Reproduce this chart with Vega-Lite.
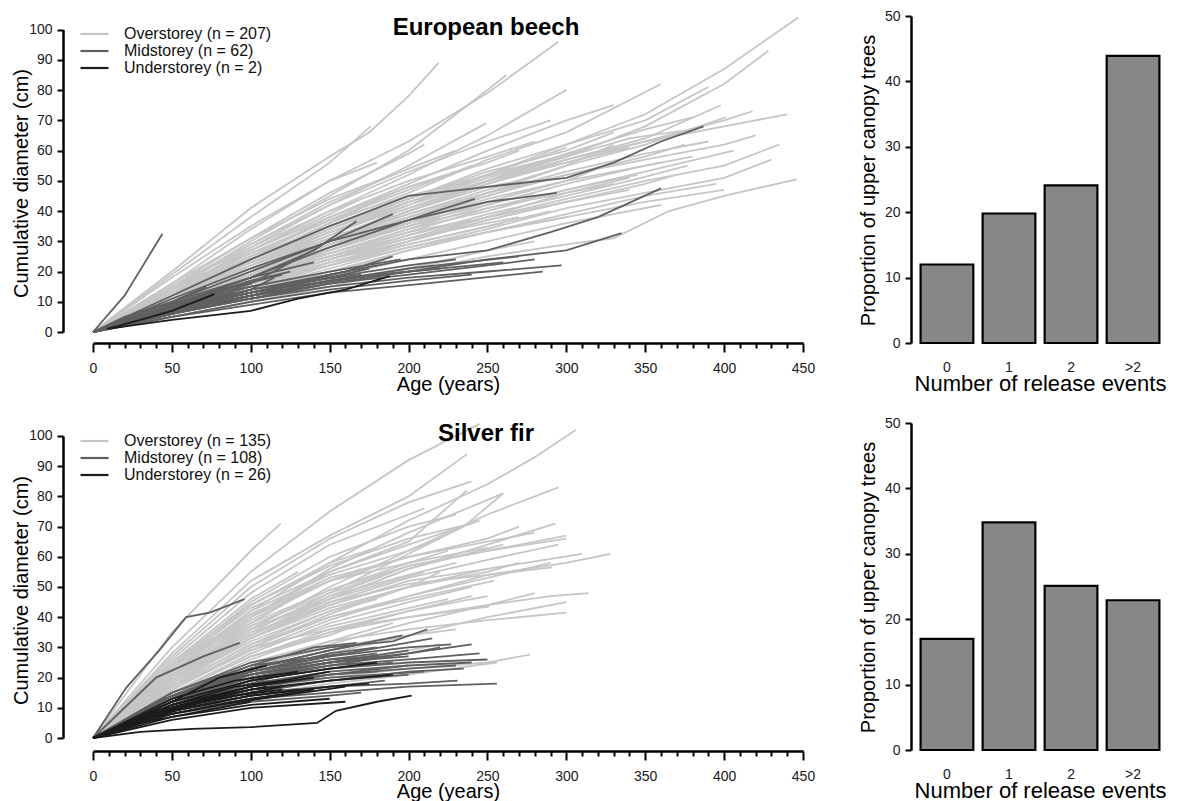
{
"$schema": "https://vega.github.io/schema/vega-lite/v6.json",
"background": "white",
"padding": {"left": 11, "top": 9, "right": 5, "bottom": 2},
"config": {
  "font": "Liberation Sans",
  "view": {"stroke": null},
  "axis": {"grid": false, "domainColor": "#000", "domainWidth": 2.5, "domainCap": "butt", "tickColor": "#000", "tickWidth": 2, "labelColor": "#1a1a1a", "labelFontSize": 14, "labelFont": "Liberation Sans", "titleFont": "Liberation Sans", "titleColor": "#000", "titleFontWeight": "normal", "titleFontSize": 20},
  "legend": {"labelFont": "Liberation Sans", "labelColor": "#111"}
},
"datasets": {
"beech": [
{"t":1,"c":"O","a":0,"d":0},{"t":1,"c":"O","a":50,"d":10},{"t":1,"c":"O","a":100,"d":22},{"t":1,"c":"O","a":150,"d":32},{"t":1,"c":"O","a":200,"d":43},{"t":1,"c":"O","a":250,"d":52},{"t":1,"c":"O","a":300,"d":62},{"t":1,"c":"O","a":350,"d":72},{"t":1,"c":"O","a":400,"d":87},{"t":1,"c":"O","a":447,"d":104},
{"t":2,"c":"O","a":0,"d":0},{"t":2,"c":"O","a":50,"d":9},{"t":2,"c":"O","a":100,"d":19},{"t":2,"c":"O","a":150,"d":30},{"t":2,"c":"O","a":200,"d":40},{"t":2,"c":"O","a":250,"d":50},{"t":2,"c":"O","a":300,"d":58},{"t":2,"c":"O","a":350,"d":68},{"t":2,"c":"O","a":400,"d":82},{"t":2,"c":"O","a":428,"d":93},
{"t":3,"c":"O","a":0,"d":0},{"t":3,"c":"O","a":50,"d":16},{"t":3,"c":"O","a":100,"d":34},{"t":3,"c":"O","a":150,"d":50},{"t":3,"c":"O","a":200,"d":63},{"t":3,"c":"O","a":250,"d":79},{"t":3,"c":"O","a":295,"d":96},
{"t":4,"c":"O","a":0,"d":0},{"t":4,"c":"O","a":50,"d":20},{"t":4,"c":"O","a":100,"d":41},{"t":4,"c":"O","a":150,"d":58},{"t":4,"c":"O","a":175,"d":66},{"t":4,"c":"O","a":200,"d":78},{"t":4,"c":"O","a":219,"d":89},
{"t":5,"c":"O","a":0,"d":0},{"t":5,"c":"O","a":50,"d":19},{"t":5,"c":"O","a":100,"d":38},{"t":5,"c":"O","a":150,"d":56},{"t":5,"c":"O","a":176,"d":68},
{"t":6,"c":"O","a":0,"d":0},{"t":6,"c":"O","a":50,"d":14},{"t":6,"c":"O","a":100,"d":30},{"t":6,"c":"O","a":150,"d":45},{"t":6,"c":"O","a":200,"d":60},{"t":6,"c":"O","a":250,"d":80},{"t":6,"c":"O","a":262,"d":85},
{"t":7,"c":"O","a":0,"d":0},{"t":7,"c":"O","a":50,"d":12},{"t":7,"c":"O","a":100,"d":27},{"t":7,"c":"O","a":150,"d":40},{"t":7,"c":"O","a":200,"d":52},{"t":7,"c":"O","a":250,"d":65},{"t":7,"c":"O","a":300,"d":80},
{"t":8,"c":"O","a":0,"d":0},{"t":8,"c":"O","a":50,"d":13},{"t":8,"c":"O","a":100,"d":28},{"t":8,"c":"O","a":150,"d":42},{"t":8,"c":"O","a":200,"d":55},{"t":8,"c":"O","a":249,"d":69},
{"t":9,"c":"O","a":0,"d":0},{"t":9,"c":"O","a":50,"d":11},{"t":9,"c":"O","a":100,"d":24},{"t":9,"c":"O","a":150,"d":36},{"t":9,"c":"O","a":200,"d":46},{"t":9,"c":"O","a":250,"d":57},{"t":9,"c":"O","a":300,"d":66},{"t":9,"c":"O","a":360,"d":82},
{"t":10,"c":"O","a":0,"d":0},{"t":10,"c":"O","a":50,"d":9},{"t":10,"c":"O","a":100,"d":20},{"t":10,"c":"O","a":150,"d":30},{"t":10,"c":"O","a":200,"d":40},{"t":10,"c":"O","a":250,"d":49},{"t":10,"c":"O","a":300,"d":57},{"t":10,"c":"O","a":350,"d":64},{"t":10,"c":"O","a":398,"d":75},
{"t":11,"c":"O","a":0,"d":0},{"t":11,"c":"O","a":50,"d":10},{"t":11,"c":"O","a":100,"d":19},{"t":11,"c":"O","a":150,"d":28},{"t":11,"c":"O","a":200,"d":37},{"t":11,"c":"O","a":250,"d":46},{"t":11,"c":"O","a":300,"d":55},{"t":11,"c":"O","a":350,"d":62},{"t":11,"c":"O","a":401,"d":71},
{"t":12,"c":"O","a":0,"d":0},{"t":12,"c":"O","a":50,"d":11},{"t":12,"c":"O","a":100,"d":23},{"t":12,"c":"O","a":150,"d":34},{"t":12,"c":"O","a":200,"d":44},{"t":12,"c":"O","a":250,"d":54},{"t":12,"c":"O","a":300,"d":62},{"t":12,"c":"O","a":350,"d":70},{"t":12,"c":"O","a":390,"d":81},
{"t":13,"c":"O","a":0,"d":0},{"t":13,"c":"O","a":50,"d":8},{"t":13,"c":"O","a":100,"d":16},{"t":13,"c":"O","a":150,"d":24},{"t":13,"c":"O","a":200,"d":31},{"t":13,"c":"O","a":250,"d":38},{"t":13,"c":"O","a":300,"d":44},{"t":13,"c":"O","a":350,"d":50},{"t":13,"c":"O","a":400,"d":55},{"t":13,"c":"O","a":435,"d":62},
{"t":14,"c":"O","a":0,"d":0},{"t":14,"c":"O","a":50,"d":7},{"t":14,"c":"O","a":100,"d":14},{"t":14,"c":"O","a":150,"d":21},{"t":14,"c":"O","a":200,"d":28},{"t":14,"c":"O","a":250,"d":34},{"t":14,"c":"O","a":300,"d":41},{"t":14,"c":"O","a":350,"d":46},{"t":14,"c":"O","a":400,"d":51},{"t":14,"c":"O","a":430,"d":57},
{"t":15,"c":"O","a":0,"d":0},{"t":15,"c":"O","a":50,"d":6},{"t":15,"c":"O","a":100,"d":11},{"t":15,"c":"O","a":150,"d":16},{"t":15,"c":"O","a":200,"d":20},{"t":15,"c":"O","a":250,"d":25},{"t":15,"c":"O","a":300,"d":29},{"t":15,"c":"O","a":330,"d":31},{"t":15,"c":"O","a":365,"d":40},{"t":15,"c":"O","a":400,"d":45},{"t":15,"c":"O","a":446,"d":50.5},
{"t":16,"c":"O","a":0,"d":0},{"t":16,"c":"O","a":50,"d":9},{"t":16,"c":"O","a":100,"d":17},{"t":16,"c":"O","a":150,"d":25},{"t":16,"c":"O","a":200,"d":33},{"t":16,"c":"O","a":250,"d":41},{"t":16,"c":"O","a":300,"d":47},{"t":16,"c":"O","a":350,"d":53},{"t":16,"c":"O","a":406,"d":60},
{"t":17,"c":"O","a":0,"d":0},{"t":17,"c":"O","a":50,"d":8},{"t":17,"c":"O","a":100,"d":16},{"t":17,"c":"O","a":150,"d":24},{"t":17,"c":"O","a":200,"d":32},{"t":17,"c":"O","a":250,"d":39},{"t":17,"c":"O","a":300,"d":45},{"t":17,"c":"O","a":340,"d":50},{"t":17,"c":"O","a":377,"d":55},
{"t":18,"c":"O","a":0,"d":0},{"t":18,"c":"O","a":50,"d":10},{"t":18,"c":"O","a":100,"d":20},{"t":18,"c":"O","a":150,"d":30},{"t":18,"c":"O","a":200,"d":39},{"t":18,"c":"O","a":250,"d":47},{"t":18,"c":"O","a":300,"d":55},{"t":18,"c":"O","a":330,"d":62},
{"t":19,"c":"O","a":0,"d":0},{"t":19,"c":"O","a":50,"d":12},{"t":19,"c":"O","a":100,"d":24},{"t":19,"c":"O","a":150,"d":34},{"t":19,"c":"O","a":200,"d":44},{"t":19,"c":"O","a":250,"d":52},{"t":19,"c":"O","a":310,"d":60},
{"t":20,"c":"O","a":0,"d":0},{"t":20,"c":"O","a":50,"d":11},{"t":20,"c":"O","a":100,"d":21},{"t":20,"c":"O","a":150,"d":30},{"t":20,"c":"O","a":200,"d":38},{"t":20,"c":"O","a":250,"d":45},{"t":20,"c":"O","a":290,"d":51},
{"t":21,"c":"O","a":0,"d":0},{"t":21,"c":"O","a":50,"d":13},{"t":21,"c":"O","a":100,"d":26},{"t":21,"c":"O","a":150,"d":37},{"t":21,"c":"O","a":200,"d":47},{"t":21,"c":"O","a":240,"d":55},
{"t":22,"c":"O","a":0,"d":0},{"t":22,"c":"O","a":50,"d":9},{"t":22,"c":"O","a":100,"d":18},{"t":22,"c":"O","a":150,"d":26},{"t":22,"c":"O","a":200,"d":34},{"t":22,"c":"O","a":250,"d":40},{"t":22,"c":"O","a":300,"d":47},{"t":22,"c":"O","a":345,"d":52},
{"t":23,"c":"O","a":0,"d":0},{"t":23,"c":"O","a":50,"d":7},{"t":23,"c":"O","a":100,"d":15},{"t":23,"c":"O","a":150,"d":22},{"t":23,"c":"O","a":200,"d":29},{"t":23,"c":"O","a":250,"d":35},{"t":23,"c":"O","a":290,"d":40},
{"t":24,"c":"O","a":0,"d":0},{"t":24,"c":"O","a":50,"d":14},{"t":24,"c":"O","a":100,"d":29},{"t":24,"c":"O","a":150,"d":43},{"t":24,"c":"O","a":200,"d":54},{"t":24,"c":"O","a":230,"d":60},
{"t":25,"c":"O","a":0,"d":0},{"t":25,"c":"O","a":50,"d":15},{"t":25,"c":"O","a":100,"d":31},{"t":25,"c":"O","a":150,"d":44},{"t":25,"c":"O","a":190,"d":52},
{"t":26,"c":"O","a":0,"d":0},{"t":26,"c":"O","a":50,"d":12},{"t":26,"c":"O","a":100,"d":24},{"t":26,"c":"O","a":150,"d":36},{"t":26,"c":"O","a":170,"d":41},
{"t":27,"c":"O","a":0,"d":0},{"t":27,"c":"O","a":50,"d":9},{"t":27,"c":"O","a":100,"d":19},{"t":27,"c":"O","a":150,"d":29},{"t":27,"c":"O","a":200,"d":37},{"t":27,"c":"O","a":260,"d":44},
{"t":28,"c":"O","a":0,"d":0},{"t":28,"c":"O","a":50,"d":8},{"t":28,"c":"O","a":100,"d":17},{"t":28,"c":"O","a":150,"d":25},{"t":28,"c":"O","a":200,"d":32},{"t":28,"c":"O","a":250,"d":38},{"t":28,"c":"O","a":320,"d":45},
{"t":29,"c":"O","a":0,"d":0},{"t":29,"c":"O","a":50,"d":6},{"t":29,"c":"O","a":100,"d":12},{"t":29,"c":"O","a":150,"d":18},{"t":29,"c":"O","a":200,"d":24},{"t":29,"c":"O","a":250,"d":30},{"t":29,"c":"O","a":300,"d":36},{"t":29,"c":"O","a":360,"d":42},
{"t":30,"c":"O","a":0,"d":0},{"t":30,"c":"O","a":50,"d":5},{"t":30,"c":"O","a":100,"d":10},{"t":30,"c":"O","a":150,"d":15},{"t":30,"c":"O","a":200,"d":21},{"t":30,"c":"O","a":250,"d":27},{"t":30,"c":"O","a":280,"d":30},
{"t":31,"c":"O","a":0,"d":0},{"t":31,"c":"O","a":50,"d":6},{"t":31,"c":"O","a":100,"d":11},{"t":31,"c":"O","a":150,"d":16},{"t":31,"c":"O","a":200,"d":21},{"t":31,"c":"O","a":230,"d":24},
{"t":32,"c":"O","a":0,"d":0},{"t":32,"c":"O","a":50,"d":10},{"t":32,"c":"O","a":100,"d":22},{"t":32,"c":"O","a":150,"d":33},{"t":32,"c":"O","a":200,"d":43},{"t":32,"c":"O","a":250,"d":51},{"t":32,"c":"O","a":300,"d":58},{"t":32,"c":"O","a":340,"d":64},{"t":32,"c":"O","a":380,"d":67},
{"t":33,"c":"O","a":0,"d":0},{"t":33,"c":"O","a":50,"d":13},{"t":33,"c":"O","a":100,"d":25},{"t":33,"c":"O","a":150,"d":38},{"t":33,"c":"O","a":200,"d":49},{"t":33,"c":"O","a":250,"d":60},{"t":33,"c":"O","a":300,"d":70},{"t":33,"c":"O","a":330,"d":75},
{"t":34,"c":"O","a":0,"d":0},{"t":34,"c":"O","a":50,"d":11},{"t":34,"c":"O","a":100,"d":22},{"t":34,"c":"O","a":150,"d":32},{"t":34,"c":"O","a":200,"d":42},{"t":34,"c":"O","a":250,"d":52},{"t":34,"c":"O","a":300,"d":61},
{"t":35,"c":"O","a":0,"d":0},{"t":35,"c":"O","a":50,"d":16},{"t":35,"c":"O","a":100,"d":31},{"t":35,"c":"O","a":150,"d":46},{"t":35,"c":"O","a":200,"d":59},{"t":35,"c":"O","a":210,"d":62},
{"t":36,"c":"O","a":0,"d":0},{"t":36,"c":"O","a":50,"d":18},{"t":36,"c":"O","a":100,"d":35},{"t":36,"c":"O","a":150,"d":50},{"t":36,"c":"O","a":180,"d":56},
{"t":37,"c":"O","a":0,"d":0},{"t":37,"c":"O","a":50,"d":8},{"t":37,"c":"O","a":100,"d":17},{"t":37,"c":"O","a":150,"d":27},{"t":37,"c":"O","a":200,"d":36},{"t":37,"c":"O","a":250,"d":45},{"t":37,"c":"O","a":300,"d":52},{"t":37,"c":"O","a":350,"d":58},{"t":37,"c":"O","a":375,"d":62},
{"t":38,"c":"O","a":0,"d":0},{"t":38,"c":"O","a":50,"d":10},{"t":38,"c":"O","a":100,"d":19},{"t":38,"c":"O","a":150,"d":27},{"t":38,"c":"O","a":200,"d":35},{"t":38,"c":"O","a":220,"d":38},
{"t":39,"c":"O","a":0,"d":0},{"t":39,"c":"O","a":50,"d":14},{"t":39,"c":"O","a":100,"d":26},{"t":39,"c":"O","a":150,"d":37},{"t":39,"c":"O","a":200,"d":45},{"t":39,"c":"O","a":260,"d":53},{"t":39,"c":"O","a":300,"d":58},
{"t":40,"c":"O","a":0,"d":0},{"t":40,"c":"O","a":50,"d":12},{"t":40,"c":"O","a":100,"d":23},{"t":40,"c":"O","a":150,"d":33},{"t":40,"c":"O","a":200,"d":41},{"t":40,"c":"O","a":250,"d":49},{"t":40,"c":"O","a":300,"d":56},{"t":40,"c":"O","a":350,"d":63},{"t":40,"c":"O","a":400,"d":70},{"t":40,"c":"O","a":418,"d":73},
{"t":41,"c":"O","a":0,"d":0},{"t":41,"c":"O","a":50,"d":7},{"t":41,"c":"O","a":100,"d":13},{"t":41,"c":"O","a":150,"d":20},{"t":41,"c":"O","a":200,"d":27},{"t":41,"c":"O","a":250,"d":33},{"t":41,"c":"O","a":300,"d":39},{"t":41,"c":"O","a":350,"d":45},{"t":41,"c":"O","a":395,"d":49},
{"t":42,"c":"O","a":0,"d":0},{"t":42,"c":"O","a":50,"d":9},{"t":42,"c":"O","a":100,"d":17},{"t":42,"c":"O","a":150,"d":24},{"t":42,"c":"O","a":200,"d":30},{"t":42,"c":"O","a":250,"d":37},{"t":42,"c":"O","a":300,"d":43},{"t":42,"c":"O","a":340,"d":47},
{"t":43,"c":"O","a":0,"d":0},{"t":43,"c":"O","a":50,"d":11},{"t":43,"c":"O","a":100,"d":20},{"t":43,"c":"O","a":130,"d":25},
{"t":44,"c":"O","a":0,"d":0},{"t":44,"c":"O","a":50,"d":13},{"t":44,"c":"O","a":100,"d":23},{"t":44,"c":"O","a":140,"d":30},
{"t":45,"c":"O","a":0,"d":0},{"t":45,"c":"O","a":50,"d":8},{"t":45,"c":"O","a":100,"d":14},{"t":45,"c":"O","a":150,"d":20},{"t":45,"c":"O","a":185,"d":24},
{"t":46,"c":"O","a":0,"d":0},{"t":46,"c":"O","a":50,"d":12},{"t":46,"c":"O","a":100,"d":21},{"t":46,"c":"O","a":150,"d":29},{"t":46,"c":"O","a":200,"d":36},{"t":46,"c":"O","a":250,"d":42},{"t":46,"c":"O","a":280,"d":46},
{"t":47,"c":"O","a":0,"d":0},{"t":47,"c":"O","a":50,"d":10},{"t":47,"c":"O","a":100,"d":18},{"t":47,"c":"O","a":150,"d":25},{"t":47,"c":"O","a":200,"d":31},{"t":47,"c":"O","a":250,"d":36},{"t":47,"c":"O","a":270,"d":38},
{"t":48,"c":"O","a":0,"d":0},{"t":48,"c":"O","a":50,"d":15},{"t":48,"c":"O","a":100,"d":28},{"t":48,"c":"O","a":150,"d":40},{"t":48,"c":"O","a":200,"d":50},{"t":48,"c":"O","a":250,"d":58},{"t":48,"c":"O","a":280,"d":63},
{"t":49,"c":"O","a":0,"d":0},{"t":49,"c":"O","a":50,"d":11},{"t":49,"c":"O","a":100,"d":19},{"t":49,"c":"O","a":150,"d":26},{"t":49,"c":"O","a":200,"d":33},{"t":49,"c":"O","a":240,"d":37},
{"t":50,"c":"O","a":0,"d":0},{"t":50,"c":"O","a":50,"d":14},{"t":50,"c":"O","a":100,"d":27},{"t":50,"c":"O","a":150,"d":39},{"t":50,"c":"O","a":170,"d":44},
{"t":201,"c":"O","a":0,"d":0},{"t":201,"c":"O","a":50,"d":10},{"t":201,"c":"O","a":100,"d":20},{"t":201,"c":"O","a":150,"d":29},{"t":201,"c":"O","a":200,"d":38},{"t":201,"c":"O","a":250,"d":46},{"t":201,"c":"O","a":300,"d":53},{"t":201,"c":"O","a":350,"d":59},{"t":201,"c":"O","a":390,"d":63},
{"t":202,"c":"O","a":0,"d":0},{"t":202,"c":"O","a":50,"d":12},{"t":202,"c":"O","a":100,"d":23},{"t":202,"c":"O","a":150,"d":33},{"t":202,"c":"O","a":200,"d":42},{"t":202,"c":"O","a":250,"d":50},{"t":202,"c":"O","a":300,"d":57},
{"t":203,"c":"O","a":0,"d":0},{"t":203,"c":"O","a":50,"d":9},{"t":203,"c":"O","a":100,"d":18},{"t":203,"c":"O","a":150,"d":27},{"t":203,"c":"O","a":200,"d":35},{"t":203,"c":"O","a":250,"d":43},{"t":203,"c":"O","a":300,"d":50},{"t":203,"c":"O","a":320,"d":54},
{"t":204,"c":"O","a":0,"d":0},{"t":204,"c":"O","a":50,"d":11},{"t":204,"c":"O","a":100,"d":22},{"t":204,"c":"O","a":150,"d":31},{"t":204,"c":"O","a":200,"d":40},{"t":204,"c":"O","a":250,"d":48},{"t":204,"c":"O","a":270,"d":50},
{"t":205,"c":"O","a":0,"d":0},{"t":205,"c":"O","a":50,"d":13},{"t":205,"c":"O","a":100,"d":25},{"t":205,"c":"O","a":150,"d":35},{"t":205,"c":"O","a":200,"d":44},{"t":205,"c":"O","a":250,"d":53},{"t":205,"c":"O","a":300,"d":60},{"t":205,"c":"O","a":330,"d":66},
{"t":206,"c":"O","a":0,"d":0},{"t":206,"c":"O","a":50,"d":8},{"t":206,"c":"O","a":100,"d":15},{"t":206,"c":"O","a":150,"d":23},{"t":206,"c":"O","a":200,"d":30},{"t":206,"c":"O","a":250,"d":37},{"t":206,"c":"O","a":300,"d":43},{"t":206,"c":"O","a":350,"d":49},{"t":206,"c":"O","a":370,"d":52},
{"t":207,"c":"O","a":0,"d":0},{"t":207,"c":"O","a":50,"d":10},{"t":207,"c":"O","a":100,"d":21},{"t":207,"c":"O","a":150,"d":31},{"t":207,"c":"O","a":200,"d":41},{"t":207,"c":"O","a":250,"d":50},{"t":207,"c":"O","a":300,"d":59},{"t":207,"c":"O","a":350,"d":67},{"t":207,"c":"O","a":380,"d":71},
{"t":208,"c":"O","a":0,"d":0},{"t":208,"c":"O","a":50,"d":14},{"t":208,"c":"O","a":100,"d":27},{"t":208,"c":"O","a":150,"d":38},{"t":208,"c":"O","a":200,"d":48},{"t":208,"c":"O","a":250,"d":56},{"t":208,"c":"O","a":270,"d":60},
{"t":209,"c":"O","a":0,"d":0},{"t":209,"c":"O","a":50,"d":7},{"t":209,"c":"O","a":100,"d":14},{"t":209,"c":"O","a":150,"d":22},{"t":209,"c":"O","a":200,"d":30},{"t":209,"c":"O","a":250,"d":38},{"t":209,"c":"O","a":300,"d":46},{"t":209,"c":"O","a":340,"d":51},
{"t":210,"c":"O","a":0,"d":0},{"t":210,"c":"O","a":50,"d":12},{"t":210,"c":"O","a":100,"d":22},{"t":210,"c":"O","a":150,"d":31},{"t":210,"c":"O","a":200,"d":39},{"t":210,"c":"O","a":250,"d":46},{"t":210,"c":"O","a":300,"d":52},{"t":210,"c":"O","a":350,"d":57},{"t":210,"c":"O","a":400,"d":62},{"t":210,"c":"O","a":420,"d":65},
{"t":211,"c":"O","a":0,"d":0},{"t":211,"c":"O","a":50,"d":9},{"t":211,"c":"O","a":100,"d":17},{"t":211,"c":"O","a":150,"d":26},{"t":211,"c":"O","a":200,"d":34},{"t":211,"c":"O","a":250,"d":42},{"t":211,"c":"O","a":300,"d":49},{"t":211,"c":"O","a":350,"d":55},{"t":211,"c":"O","a":380,"d":58},
{"t":212,"c":"O","a":0,"d":0},{"t":212,"c":"O","a":50,"d":11},{"t":212,"c":"O","a":100,"d":20},{"t":212,"c":"O","a":150,"d":28},{"t":212,"c":"O","a":200,"d":35},{"t":212,"c":"O","a":250,"d":41},{"t":212,"c":"O","a":300,"d":46},{"t":212,"c":"O","a":330,"d":49},
{"t":213,"c":"O","a":0,"d":0},{"t":213,"c":"O","a":50,"d":15},{"t":213,"c":"O","a":100,"d":29},{"t":213,"c":"O","a":150,"d":42},{"t":213,"c":"O","a":200,"d":53},{"t":213,"c":"O","a":250,"d":63},{"t":213,"c":"O","a":290,"d":70},
{"t":214,"c":"O","a":0,"d":0},{"t":214,"c":"O","a":50,"d":10},{"t":214,"c":"O","a":100,"d":19},{"t":214,"c":"O","a":150,"d":28},{"t":214,"c":"O","a":200,"d":36},{"t":214,"c":"O","a":250,"d":44},{"t":214,"c":"O","a":300,"d":50},{"t":214,"c":"O","a":360,"d":56},
{"t":215,"c":"O","a":0,"d":0},{"t":215,"c":"O","a":50,"d":6},{"t":215,"c":"O","a":100,"d":13},{"t":215,"c":"O","a":150,"d":20},{"t":215,"c":"O","a":200,"d":27},{"t":215,"c":"O","a":250,"d":33},{"t":215,"c":"O","a":300,"d":38},{"t":215,"c":"O","a":350,"d":43},{"t":215,"c":"O","a":400,"d":47},
{"t":216,"c":"O","a":0,"d":0},{"t":216,"c":"O","a":50,"d":13},{"t":216,"c":"O","a":100,"d":24},{"t":216,"c":"O","a":150,"d":34},{"t":216,"c":"O","a":200,"d":43},{"t":216,"c":"O","a":250,"d":50},{"t":216,"c":"O","a":300,"d":56},{"t":216,"c":"O","a":340,"d":61},
{"t":217,"c":"O","a":0,"d":0},{"t":217,"c":"O","a":50,"d":9},{"t":217,"c":"O","a":100,"d":16},{"t":217,"c":"O","a":150,"d":22},{"t":217,"c":"O","a":200,"d":28},{"t":217,"c":"O","a":250,"d":33},{"t":217,"c":"O","a":300,"d":38},
{"t":218,"c":"O","a":0,"d":0},{"t":218,"c":"O","a":50,"d":11},{"t":218,"c":"O","a":100,"d":21},{"t":218,"c":"O","a":150,"d":31},{"t":218,"c":"O","a":200,"d":40},{"t":218,"c":"O","a":250,"d":49},{"t":218,"c":"O","a":300,"d":57},{"t":218,"c":"O","a":350,"d":63},{"t":218,"c":"O","a":400,"d":68},{"t":218,"c":"O","a":440,"d":72},
{"t":219,"c":"O","a":0,"d":0},{"t":219,"c":"O","a":50,"d":12},{"t":219,"c":"O","a":100,"d":25},{"t":219,"c":"O","a":150,"d":37},{"t":219,"c":"O","a":200,"d":48},{"t":219,"c":"O","a":230,"d":53},
{"t":220,"c":"O","a":0,"d":0},{"t":220,"c":"O","a":50,"d":8},{"t":220,"c":"O","a":100,"d":16},{"t":220,"c":"O","a":150,"d":23},{"t":220,"c":"O","a":200,"d":29},{"t":220,"c":"O","a":260,"d":36},
{"t":51,"c":"M","a":0,"d":0},{"t":51,"c":"M","a":20,"d":12},{"t":51,"c":"M","a":44,"d":32.5},
{"t":52,"c":"M","a":0,"d":0},{"t":52,"c":"M","a":50,"d":12},{"t":52,"c":"M","a":100,"d":24},{"t":52,"c":"M","a":150,"d":35},{"t":52,"c":"M","a":200,"d":45},{"t":52,"c":"M","a":250,"d":48},{"t":52,"c":"M","a":300,"d":51},{"t":52,"c":"M","a":330,"d":56},{"t":52,"c":"M","a":360,"d":63},{"t":52,"c":"M","a":387,"d":68},
{"t":53,"c":"M","a":0,"d":0},{"t":53,"c":"M","a":50,"d":11},{"t":53,"c":"M","a":100,"d":21},{"t":53,"c":"M","a":150,"d":30},{"t":53,"c":"M","a":200,"d":37},{"t":53,"c":"M","a":250,"d":43},{"t":53,"c":"M","a":294,"d":46},
{"t":54,"c":"M","a":0,"d":0},{"t":54,"c":"M","a":50,"d":7},{"t":54,"c":"M","a":100,"d":13},{"t":54,"c":"M","a":150,"d":19},{"t":54,"c":"M","a":200,"d":24},{"t":54,"c":"M","a":250,"d":27},{"t":54,"c":"M","a":290,"d":33},{"t":54,"c":"M","a":320,"d":38},{"t":54,"c":"M","a":360,"d":47.5},
{"t":55,"c":"M","a":0,"d":0},{"t":55,"c":"M","a":50,"d":6},{"t":55,"c":"M","a":100,"d":11},{"t":55,"c":"M","a":150,"d":16},{"t":55,"c":"M","a":200,"d":20},{"t":55,"c":"M","a":250,"d":24},{"t":55,"c":"M","a":300,"d":27},{"t":55,"c":"M","a":335,"d":32.7},
{"t":56,"c":"M","a":0,"d":0},{"t":56,"c":"M","a":50,"d":6},{"t":56,"c":"M","a":100,"d":11},{"t":56,"c":"M","a":150,"d":15},{"t":56,"c":"M","a":200,"d":18},{"t":56,"c":"M","a":250,"d":20},{"t":56,"c":"M","a":297,"d":22},
{"t":57,"c":"M","a":0,"d":0},{"t":57,"c":"M","a":50,"d":9},{"t":57,"c":"M","a":100,"d":18},{"t":57,"c":"M","a":150,"d":28},{"t":57,"c":"M","a":200,"d":37},{"t":57,"c":"M","a":242,"d":44},
{"t":58,"c":"M","a":0,"d":0},{"t":58,"c":"M","a":50,"d":10},{"t":58,"c":"M","a":100,"d":20},{"t":58,"c":"M","a":150,"d":30},{"t":58,"c":"M","a":190,"d":39},
{"t":59,"c":"M","a":0,"d":0},{"t":59,"c":"M","a":50,"d":9},{"t":59,"c":"M","a":100,"d":18},{"t":59,"c":"M","a":140,"d":27},{"t":59,"c":"M","a":167,"d":36.6},
{"t":60,"c":"M","a":0,"d":0},{"t":60,"c":"M","a":50,"d":8},{"t":60,"c":"M","a":100,"d":16},{"t":60,"c":"M","a":142,"d":27.7},
{"t":61,"c":"M","a":0,"d":0},{"t":61,"c":"M","a":20,"d":5},{"t":61,"c":"M","a":50,"d":10},{"t":61,"c":"M","a":72,"d":15},
{"t":62,"c":"M","a":0,"d":0},{"t":62,"c":"M","a":50,"d":7},{"t":62,"c":"M","a":100,"d":13},{"t":62,"c":"M","a":150,"d":17},{"t":62,"c":"M","a":200,"d":20},{"t":62,"c":"M","a":260,"d":23},
{"t":63,"c":"M","a":0,"d":0},{"t":63,"c":"M","a":50,"d":6},{"t":63,"c":"M","a":100,"d":12},{"t":63,"c":"M","a":150,"d":17},{"t":63,"c":"M","a":200,"d":21},{"t":63,"c":"M","a":270,"d":25},
{"t":64,"c":"M","a":0,"d":0},{"t":64,"c":"M","a":50,"d":8},{"t":64,"c":"M","a":100,"d":15},{"t":64,"c":"M","a":150,"d":20},{"t":64,"c":"M","a":195,"d":24},
{"t":65,"c":"M","a":0,"d":0},{"t":65,"c":"M","a":50,"d":5},{"t":65,"c":"M","a":100,"d":10},{"t":65,"c":"M","a":150,"d":14},{"t":65,"c":"M","a":200,"d":17},{"t":65,"c":"M","a":240,"d":19},
{"t":66,"c":"M","a":0,"d":0},{"t":66,"c":"M","a":50,"d":7},{"t":66,"c":"M","a":100,"d":12},{"t":66,"c":"M","a":130,"d":14},
{"t":67,"c":"M","a":0,"d":0},{"t":67,"c":"M","a":50,"d":9},{"t":67,"c":"M","a":100,"d":17},{"t":67,"c":"M","a":125,"d":20},
{"t":68,"c":"M","a":0,"d":0},{"t":68,"c":"M","a":50,"d":6},{"t":68,"c":"M","a":100,"d":12},{"t":68,"c":"M","a":160,"d":20},{"t":68,"c":"M","a":190,"d":25},
{"t":69,"c":"M","a":0,"d":0},{"t":69,"c":"M","a":50,"d":8},{"t":69,"c":"M","a":100,"d":14},{"t":69,"c":"M","a":115,"d":18},
{"t":70,"c":"M","a":0,"d":0},{"t":70,"c":"M","a":30,"d":4},{"t":70,"c":"M","a":60,"d":9},{"t":70,"c":"M","a":90,"d":13},
{"t":71,"c":"M","a":0,"d":0},{"t":71,"c":"M","a":50,"d":5},{"t":71,"c":"M","a":100,"d":9},{"t":71,"c":"M","a":150,"d":13},{"t":71,"c":"M","a":210,"d":16},{"t":71,"c":"M","a":285,"d":20},
{"t":72,"c":"M","a":0,"d":0},{"t":72,"c":"M","a":50,"d":7},{"t":72,"c":"M","a":100,"d":14},{"t":72,"c":"M","a":150,"d":19},{"t":72,"c":"M","a":180,"d":22},
{"t":73,"c":"M","a":0,"d":0},{"t":73,"c":"M","a":50,"d":8},{"t":73,"c":"M","a":100,"d":13},{"t":73,"c":"M","a":150,"d":18},{"t":73,"c":"M","a":175,"d":21},
{"t":74,"c":"M","a":0,"d":0},{"t":74,"c":"M","a":40,"d":7},{"t":74,"c":"M","a":80,"d":13},{"t":74,"c":"M","a":110,"d":16},
{"t":221,"c":"M","a":0,"d":0},{"t":221,"c":"M","a":30,"d":5},{"t":221,"c":"M","a":60,"d":9},{"t":221,"c":"M","a":100,"d":13},{"t":221,"c":"M","a":140,"d":17},{"t":221,"c":"M","a":170,"d":19},
{"t":222,"c":"M","a":0,"d":0},{"t":222,"c":"M","a":40,"d":6},{"t":222,"c":"M","a":80,"d":11},{"t":222,"c":"M","a":120,"d":15},{"t":222,"c":"M","a":150,"d":18},
{"t":223,"c":"M","a":0,"d":0},{"t":223,"c":"M","a":50,"d":8},{"t":223,"c":"M","a":100,"d":14},{"t":223,"c":"M","a":150,"d":18},{"t":223,"c":"M","a":200,"d":22},{"t":223,"c":"M","a":230,"d":24},
{"t":224,"c":"M","a":0,"d":0},{"t":224,"c":"M","a":30,"d":4},{"t":224,"c":"M","a":70,"d":9},{"t":224,"c":"M","a":110,"d":13},{"t":224,"c":"M","a":140,"d":15},
{"t":225,"c":"M","a":0,"d":0},{"t":225,"c":"M","a":50,"d":9},{"t":225,"c":"M","a":90,"d":15},{"t":225,"c":"M","a":120,"d":19},
{"t":226,"c":"M","a":0,"d":0},{"t":226,"c":"M","a":40,"d":5},{"t":226,"c":"M","a":80,"d":10},{"t":226,"c":"M","a":130,"d":15},{"t":226,"c":"M","a":180,"d":19},{"t":226,"c":"M","a":220,"d":21},
{"t":227,"c":"M","a":0,"d":0},{"t":227,"c":"M","a":50,"d":10},{"t":227,"c":"M","a":100,"d":18},{"t":227,"c":"M","a":140,"d":23},
{"t":228,"c":"M","a":0,"d":0},{"t":228,"c":"M","a":25,"d":4},{"t":228,"c":"M","a":60,"d":8},{"t":228,"c":"M","a":100,"d":11},{"t":228,"c":"M","a":120,"d":13},
{"t":229,"c":"M","a":0,"d":0},{"t":229,"c":"M","a":50,"d":7},{"t":229,"c":"M","a":100,"d":12},{"t":229,"c":"M","a":150,"d":16},{"t":229,"c":"M","a":200,"d":19},{"t":229,"c":"M","a":250,"d":22},{"t":229,"c":"M","a":280,"d":24},
{"t":230,"c":"M","a":0,"d":0},{"t":230,"c":"M","a":40,"d":8},{"t":230,"c":"M","a":80,"d":14},{"t":230,"c":"M","a":100,"d":16},
{"t":75,"c":"U","a":9,"d":1},{"t":75,"c":"U","a":30,"d":4},{"t":75,"c":"U","a":50,"d":7},{"t":75,"c":"U","a":77,"d":12.5},
{"t":76,"c":"U","a":9,"d":1},{"t":76,"c":"U","a":50,"d":4},{"t":76,"c":"U","a":100,"d":7},{"t":76,"c":"U","a":130,"d":11},{"t":76,"c":"U","a":160,"d":14},{"t":76,"c":"U","a":188,"d":18.5}
],
"fir": [
{"t":101,"c":"O","a":0,"d":0},{"t":101,"c":"O","a":50,"d":30},{"t":101,"c":"O","a":100,"d":55},{"t":101,"c":"O","a":150,"d":75},{"t":101,"c":"O","a":200,"d":92},{"t":101,"c":"O","a":245,"d":104},
{"t":102,"c":"O","a":0,"d":0},{"t":102,"c":"O","a":50,"d":28},{"t":102,"c":"O","a":100,"d":52},{"t":102,"c":"O","a":150,"d":67},{"t":102,"c":"O","a":200,"d":80},{"t":102,"c":"O","a":237,"d":94},
{"t":103,"c":"O","a":0,"d":0},{"t":103,"c":"O","a":50,"d":35},{"t":103,"c":"O","a":100,"d":62},{"t":103,"c":"O","a":119,"d":71},
{"t":104,"c":"O","a":0,"d":0},{"t":104,"c":"O","a":50,"d":22},{"t":104,"c":"O","a":100,"d":42},{"t":104,"c":"O","a":150,"d":58},{"t":104,"c":"O","a":200,"d":72},{"t":104,"c":"O","a":250,"d":84},{"t":104,"c":"O","a":280,"d":93},{"t":104,"c":"O","a":306,"d":102},
{"t":105,"c":"O","a":0,"d":0},{"t":105,"c":"O","a":50,"d":20},{"t":105,"c":"O","a":100,"d":40},{"t":105,"c":"O","a":150,"d":55},{"t":105,"c":"O","a":200,"d":65},{"t":105,"c":"O","a":237,"d":82},
{"t":106,"c":"O","a":0,"d":0},{"t":106,"c":"O","a":50,"d":22},{"t":106,"c":"O","a":100,"d":40},{"t":106,"c":"O","a":150,"d":56},{"t":106,"c":"O","a":200,"d":68},{"t":106,"c":"O","a":260,"d":81},
{"t":107,"c":"O","a":0,"d":0},{"t":107,"c":"O","a":50,"d":19},{"t":107,"c":"O","a":100,"d":36},{"t":107,"c":"O","a":150,"d":50},{"t":107,"c":"O","a":200,"d":62},{"t":107,"c":"O","a":250,"d":74},{"t":107,"c":"O","a":295,"d":83},
{"t":108,"c":"O","a":0,"d":0},{"t":108,"c":"O","a":50,"d":18},{"t":108,"c":"O","a":100,"d":34},{"t":108,"c":"O","a":150,"d":46},{"t":108,"c":"O","a":200,"d":56},{"t":108,"c":"O","a":250,"d":64},{"t":108,"c":"O","a":293,"d":71},
{"t":109,"c":"O","a":0,"d":0},{"t":109,"c":"O","a":50,"d":17},{"t":109,"c":"O","a":100,"d":33},{"t":109,"c":"O","a":150,"d":45},{"t":109,"c":"O","a":200,"d":53},{"t":109,"c":"O","a":250,"d":59},{"t":109,"c":"O","a":295,"d":64},
{"t":110,"c":"O","a":0,"d":0},{"t":110,"c":"O","a":50,"d":16},{"t":110,"c":"O","a":100,"d":30},{"t":110,"c":"O","a":150,"d":40},{"t":110,"c":"O","a":200,"d":47},{"t":110,"c":"O","a":250,"d":54},{"t":110,"c":"O","a":300,"d":58},{"t":110,"c":"O","a":328,"d":61},
{"t":111,"c":"O","a":0,"d":0},{"t":111,"c":"O","a":50,"d":15},{"t":111,"c":"O","a":100,"d":27},{"t":111,"c":"O","a":150,"d":35},{"t":111,"c":"O","a":200,"d":40},{"t":111,"c":"O","a":250,"d":44},{"t":111,"c":"O","a":290,"d":47},{"t":111,"c":"O","a":314,"d":48},
{"t":112,"c":"O","a":0,"d":0},{"t":112,"c":"O","a":50,"d":14},{"t":112,"c":"O","a":100,"d":25},{"t":112,"c":"O","a":150,"d":32},{"t":112,"c":"O","a":200,"d":36},{"t":112,"c":"O","a":250,"d":39},{"t":112,"c":"O","a":300,"d":41.5},
{"t":113,"c":"O","a":0,"d":0},{"t":113,"c":"O","a":50,"d":18},{"t":113,"c":"O","a":100,"d":34},{"t":113,"c":"O","a":150,"d":45},{"t":113,"c":"O","a":200,"d":51},{"t":113,"c":"O","a":250,"d":54},{"t":113,"c":"O","a":291,"d":56.5},
{"t":114,"c":"O","a":0,"d":0},{"t":114,"c":"O","a":50,"d":10},{"t":114,"c":"O","a":100,"d":16},{"t":114,"c":"O","a":150,"d":20},{"t":114,"c":"O","a":200,"d":23},{"t":114,"c":"O","a":250,"d":25},{"t":114,"c":"O","a":277,"d":27.6},
{"t":115,"c":"O","a":0,"d":0},{"t":115,"c":"O","a":50,"d":9},{"t":115,"c":"O","a":100,"d":14},{"t":115,"c":"O","a":150,"d":18},{"t":115,"c":"O","a":200,"d":21},{"t":115,"c":"O","a":256,"d":25},
{"t":116,"c":"O","a":0,"d":0},{"t":116,"c":"O","a":50,"d":16},{"t":116,"c":"O","a":100,"d":30},{"t":116,"c":"O","a":150,"d":36},{"t":116,"c":"O","a":200,"d":40},{"t":116,"c":"O","a":251,"d":43.5},
{"t":117,"c":"O","a":0,"d":0},{"t":117,"c":"O","a":50,"d":17},{"t":117,"c":"O","a":100,"d":31},{"t":117,"c":"O","a":150,"d":40},{"t":117,"c":"O","a":200,"d":46},{"t":117,"c":"O","a":254,"d":52},
{"t":118,"c":"O","a":0,"d":0},{"t":118,"c":"O","a":50,"d":24},{"t":118,"c":"O","a":100,"d":45},{"t":118,"c":"O","a":150,"d":60},{"t":118,"c":"O","a":200,"d":70},{"t":118,"c":"O","a":230,"d":74},
{"t":119,"c":"O","a":0,"d":0},{"t":119,"c":"O","a":50,"d":23},{"t":119,"c":"O","a":100,"d":44},{"t":119,"c":"O","a":150,"d":58},{"t":119,"c":"O","a":180,"d":63},
{"t":120,"c":"O","a":0,"d":0},{"t":120,"c":"O","a":50,"d":21},{"t":120,"c":"O","a":100,"d":39},{"t":120,"c":"O","a":150,"d":52},{"t":120,"c":"O","a":170,"d":56},
{"t":121,"c":"O","a":0,"d":0},{"t":121,"c":"O","a":50,"d":20},{"t":121,"c":"O","a":100,"d":38},{"t":121,"c":"O","a":140,"d":50},
{"t":122,"c":"O","a":0,"d":0},{"t":122,"c":"O","a":50,"d":25},{"t":122,"c":"O","a":100,"d":46},{"t":122,"c":"O","a":130,"d":55},
{"t":123,"c":"O","a":0,"d":0},{"t":123,"c":"O","a":50,"d":18},{"t":123,"c":"O","a":100,"d":33},{"t":123,"c":"O","a":150,"d":44},{"t":123,"c":"O","a":190,"d":50},
{"t":124,"c":"O","a":0,"d":0},{"t":124,"c":"O","a":50,"d":16},{"t":124,"c":"O","a":100,"d":30},{"t":124,"c":"O","a":150,"d":41},{"t":124,"c":"O","a":200,"d":50},{"t":124,"c":"O","a":220,"d":55},
{"t":125,"c":"O","a":0,"d":0},{"t":125,"c":"O","a":50,"d":19},{"t":125,"c":"O","a":100,"d":35},{"t":125,"c":"O","a":150,"d":48},{"t":125,"c":"O","a":200,"d":61},{"t":125,"c":"O","a":235,"d":70},{"t":125,"c":"O","a":260,"d":81},
{"t":126,"c":"O","a":0,"d":0},{"t":126,"c":"O","a":50,"d":14},{"t":126,"c":"O","a":100,"d":26},{"t":126,"c":"O","a":150,"d":35},{"t":126,"c":"O","a":200,"d":42},{"t":126,"c":"O","a":240,"d":47},
{"t":127,"c":"O","a":0,"d":0},{"t":127,"c":"O","a":50,"d":13},{"t":127,"c":"O","a":100,"d":24},{"t":127,"c":"O","a":150,"d":32},{"t":127,"c":"O","a":190,"d":38},
{"t":128,"c":"O","a":0,"d":0},{"t":128,"c":"O","a":50,"d":15},{"t":128,"c":"O","a":100,"d":27},{"t":128,"c":"O","a":150,"d":34},{"t":128,"c":"O","a":170,"d":38},
{"t":129,"c":"O","a":0,"d":0},{"t":129,"c":"O","a":50,"d":21},{"t":129,"c":"O","a":100,"d":36},{"t":129,"c":"O","a":150,"d":46},{"t":129,"c":"O","a":210,"d":55},
{"t":130,"c":"O","a":0,"d":0},{"t":130,"c":"O","a":50,"d":17},{"t":130,"c":"O","a":100,"d":29},{"t":130,"c":"O","a":150,"d":37},{"t":130,"c":"O","a":200,"d":43},{"t":130,"c":"O","a":225,"d":46},
{"t":131,"c":"O","a":0,"d":0},{"t":131,"c":"O","a":50,"d":22},{"t":131,"c":"O","a":100,"d":41},{"t":131,"c":"O","a":150,"d":53},{"t":131,"c":"O","a":200,"d":60},{"t":131,"c":"O","a":250,"d":66},{"t":131,"c":"O","a":270,"d":70},
{"t":132,"c":"O","a":0,"d":0},{"t":132,"c":"O","a":50,"d":12},{"t":132,"c":"O","a":100,"d":21},{"t":132,"c":"O","a":150,"d":28},{"t":132,"c":"O","a":200,"d":34},{"t":132,"c":"O","a":250,"d":40},{"t":132,"c":"O","a":300,"d":45},
{"t":133,"c":"O","a":0,"d":0},{"t":133,"c":"O","a":50,"d":19},{"t":133,"c":"O","a":100,"d":34},{"t":133,"c":"O","a":150,"d":47},{"t":133,"c":"O","a":200,"d":57},{"t":133,"c":"O","a":250,"d":62},{"t":133,"c":"O","a":300,"d":67},
{"t":134,"c":"O","a":0,"d":0},{"t":134,"c":"O","a":50,"d":26},{"t":134,"c":"O","a":100,"d":48},{"t":134,"c":"O","a":150,"d":64},{"t":134,"c":"O","a":200,"d":74},{"t":134,"c":"O","a":210,"d":76},
{"t":135,"c":"O","a":0,"d":0},{"t":135,"c":"O","a":50,"d":24},{"t":135,"c":"O","a":100,"d":43},{"t":135,"c":"O","a":150,"d":55},{"t":135,"c":"O","a":200,"d":64},{"t":135,"c":"O","a":245,"d":72},
{"t":136,"c":"O","a":0,"d":0},{"t":136,"c":"O","a":50,"d":14},{"t":136,"c":"O","a":100,"d":24},{"t":136,"c":"O","a":150,"d":30},{"t":136,"c":"O","a":200,"d":34},{"t":136,"c":"O","a":230,"d":36},
{"t":137,"c":"O","a":0,"d":0},{"t":137,"c":"O","a":50,"d":20},{"t":137,"c":"O","a":100,"d":35},{"t":137,"c":"O","a":150,"d":44},{"t":137,"c":"O","a":200,"d":52},{"t":137,"c":"O","a":250,"d":56},
{"t":138,"c":"O","a":0,"d":0},{"t":138,"c":"O","a":50,"d":11},{"t":138,"c":"O","a":100,"d":19},{"t":138,"c":"O","a":150,"d":25},{"t":138,"c":"O","a":200,"d":29},{"t":138,"c":"O","a":220,"d":31},
{"t":139,"c":"O","a":0,"d":0},{"t":139,"c":"O","a":50,"d":20},{"t":139,"c":"O","a":100,"d":37},{"t":139,"c":"O","a":150,"d":49},{"t":139,"c":"O","a":200,"d":58},{"t":139,"c":"O","a":225,"d":62},
{"t":140,"c":"O","a":0,"d":0},{"t":140,"c":"O","a":50,"d":15},{"t":140,"c":"O","a":100,"d":28},{"t":140,"c":"O","a":150,"d":38},{"t":140,"c":"O","a":200,"d":45},{"t":140,"c":"O","a":240,"d":50},
{"t":301,"c":"O","a":0,"d":0},{"t":301,"c":"O","a":50,"d":22},{"t":301,"c":"O","a":100,"d":40},{"t":301,"c":"O","a":150,"d":52},{"t":301,"c":"O","a":200,"d":60},{"t":301,"c":"O","a":250,"d":65},{"t":301,"c":"O","a":280,"d":68},
{"t":302,"c":"O","a":0,"d":0},{"t":302,"c":"O","a":50,"d":18},{"t":302,"c":"O","a":100,"d":33},{"t":302,"c":"O","a":150,"d":43},{"t":302,"c":"O","a":200,"d":50},{"t":302,"c":"O","a":250,"d":55},{"t":302,"c":"O","a":270,"d":58},
{"t":303,"c":"O","a":0,"d":0},{"t":303,"c":"O","a":50,"d":25},{"t":303,"c":"O","a":100,"d":44},{"t":303,"c":"O","a":150,"d":57},{"t":303,"c":"O","a":200,"d":66},{"t":303,"c":"O","a":240,"d":71},
{"t":304,"c":"O","a":0,"d":0},{"t":304,"c":"O","a":50,"d":20},{"t":304,"c":"O","a":100,"d":36},{"t":304,"c":"O","a":150,"d":47},{"t":304,"c":"O","a":200,"d":54},{"t":304,"c":"O","a":230,"d":58},
{"t":305,"c":"O","a":0,"d":0},{"t":305,"c":"O","a":50,"d":16},{"t":305,"c":"O","a":100,"d":29},{"t":305,"c":"O","a":150,"d":39},{"t":305,"c":"O","a":200,"d":47},{"t":305,"c":"O","a":250,"d":53},{"t":305,"c":"O","a":290,"d":58},
{"t":306,"c":"O","a":0,"d":0},{"t":306,"c":"O","a":50,"d":23},{"t":306,"c":"O","a":100,"d":42},{"t":306,"c":"O","a":150,"d":54},{"t":306,"c":"O","a":200,"d":62},{"t":306,"c":"O","a":220,"d":66},
{"t":307,"c":"O","a":0,"d":0},{"t":307,"c":"O","a":50,"d":19},{"t":307,"c":"O","a":100,"d":34},{"t":307,"c":"O","a":150,"d":46},{"t":307,"c":"O","a":200,"d":56},{"t":307,"c":"O","a":260,"d":64},
{"t":308,"c":"O","a":0,"d":0},{"t":308,"c":"O","a":50,"d":21},{"t":308,"c":"O","a":100,"d":37},{"t":308,"c":"O","a":150,"d":48},{"t":308,"c":"O","a":190,"d":55},
{"t":309,"c":"O","a":0,"d":0},{"t":309,"c":"O","a":50,"d":17},{"t":309,"c":"O","a":100,"d":31},{"t":309,"c":"O","a":150,"d":42},{"t":309,"c":"O","a":200,"d":50},{"t":309,"c":"O","a":250,"d":56},{"t":309,"c":"O","a":310,"d":61},
{"t":310,"c":"O","a":0,"d":0},{"t":310,"c":"O","a":50,"d":27},{"t":310,"c":"O","a":100,"d":50},{"t":310,"c":"O","a":150,"d":66},{"t":310,"c":"O","a":200,"d":78},{"t":310,"c":"O","a":240,"d":85},
{"t":311,"c":"O","a":0,"d":0},{"t":311,"c":"O","a":50,"d":15},{"t":311,"c":"O","a":100,"d":27},{"t":311,"c":"O","a":150,"d":36},{"t":311,"c":"O","a":200,"d":42},{"t":311,"c":"O","a":250,"d":47},
{"t":312,"c":"O","a":0,"d":0},{"t":312,"c":"O","a":50,"d":22},{"t":312,"c":"O","a":100,"d":38},{"t":312,"c":"O","a":150,"d":49},{"t":312,"c":"O","a":200,"d":57},{"t":312,"c":"O","a":250,"d":62},{"t":312,"c":"O","a":300,"d":66},
{"t":313,"c":"O","a":0,"d":0},{"t":313,"c":"O","a":50,"d":18},{"t":313,"c":"O","a":100,"d":32},{"t":313,"c":"O","a":150,"d":42},{"t":313,"c":"O","a":180,"d":46},
{"t":314,"c":"O","a":0,"d":0},{"t":314,"c":"O","a":50,"d":24},{"t":314,"c":"O","a":100,"d":41},{"t":314,"c":"O","a":150,"d":52},{"t":314,"c":"O","a":200,"d":58},{"t":314,"c":"O","a":250,"d":63},
{"t":315,"c":"O","a":0,"d":0},{"t":315,"c":"O","a":50,"d":13},{"t":315,"c":"O","a":100,"d":23},{"t":315,"c":"O","a":150,"d":31},{"t":315,"c":"O","a":200,"d":38},{"t":315,"c":"O","a":250,"d":44},{"t":315,"c":"O","a":280,"d":48},
{"t":141,"c":"M","a":0,"d":0},{"t":141,"c":"M","a":21,"d":16.6},{"t":141,"c":"M","a":42,"d":29},{"t":141,"c":"M","a":59,"d":40},{"t":141,"c":"M","a":74,"d":41.5},{"t":141,"c":"M","a":96,"d":46},
{"t":142,"c":"M","a":0,"d":0},{"t":142,"c":"M","a":50,"d":14},{"t":142,"c":"M","a":100,"d":22},{"t":142,"c":"M","a":150,"d":27},{"t":142,"c":"M","a":200,"d":30},{"t":142,"c":"M","a":227,"d":31},
{"t":143,"c":"M","a":0,"d":0},{"t":143,"c":"M","a":50,"d":12},{"t":143,"c":"M","a":100,"d":20},{"t":143,"c":"M","a":150,"d":24},{"t":143,"c":"M","a":200,"d":26},{"t":143,"c":"M","a":245,"d":28},
{"t":144,"c":"M","a":0,"d":0},{"t":144,"c":"M","a":50,"d":9},{"t":144,"c":"M","a":100,"d":13},{"t":144,"c":"M","a":150,"d":15},{"t":144,"c":"M","a":200,"d":17},{"t":144,"c":"M","a":256,"d":18},
{"t":145,"c":"M","a":0,"d":0},{"t":145,"c":"M","a":50,"d":10},{"t":145,"c":"M","a":100,"d":15},{"t":145,"c":"M","a":150,"d":17},{"t":145,"c":"M","a":200,"d":18},{"t":145,"c":"M","a":231,"d":19},
{"t":146,"c":"M","a":0,"d":0},{"t":146,"c":"M","a":50,"d":15},{"t":146,"c":"M","a":100,"d":25},{"t":146,"c":"M","a":150,"d":30},{"t":146,"c":"M","a":190,"d":32},{"t":146,"c":"M","a":212,"d":36},
{"t":147,"c":"M","a":0,"d":0},{"t":147,"c":"M","a":50,"d":13},{"t":147,"c":"M","a":100,"d":23},{"t":147,"c":"M","a":150,"d":29},{"t":147,"c":"M","a":196,"d":34},
{"t":148,"c":"M","a":0,"d":0},{"t":148,"c":"M","a":50,"d":14},{"t":148,"c":"M","a":100,"d":24},{"t":148,"c":"M","a":140,"d":30},{"t":148,"c":"M","a":167,"d":31.5},
{"t":149,"c":"M","a":0,"d":0},{"t":149,"c":"M","a":40,"d":20},{"t":149,"c":"M","a":70,"d":27},{"t":149,"c":"M","a":93,"d":31.5},
{"t":150,"c":"M","a":0,"d":0},{"t":150,"c":"M","a":50,"d":12},{"t":150,"c":"M","a":100,"d":21},{"t":150,"c":"M","a":150,"d":25},{"t":150,"c":"M","a":200,"d":28},{"t":150,"c":"M","a":220,"d":30},
{"t":151,"c":"M","a":0,"d":0},{"t":151,"c":"M","a":50,"d":11},{"t":151,"c":"M","a":100,"d":18},{"t":151,"c":"M","a":150,"d":22},{"t":151,"c":"M","a":200,"d":24},{"t":151,"c":"M","a":240,"d":25},
{"t":152,"c":"M","a":0,"d":0},{"t":152,"c":"M","a":50,"d":13},{"t":152,"c":"M","a":100,"d":21},{"t":152,"c":"M","a":150,"d":26},{"t":152,"c":"M","a":180,"d":28},
{"t":153,"c":"M","a":0,"d":0},{"t":153,"c":"M","a":50,"d":10},{"t":153,"c":"M","a":100,"d":16},{"t":153,"c":"M","a":150,"d":19},{"t":153,"c":"M","a":200,"d":22},{"t":153,"c":"M","a":235,"d":23},
{"t":154,"c":"M","a":0,"d":0},{"t":154,"c":"M","a":50,"d":12},{"t":154,"c":"M","a":100,"d":19},{"t":154,"c":"M","a":150,"d":23},{"t":154,"c":"M","a":190,"d":25},
{"t":155,"c":"M","a":0,"d":0},{"t":155,"c":"M","a":50,"d":14},{"t":155,"c":"M","a":100,"d":23},{"t":155,"c":"M","a":130,"d":26},
{"t":156,"c":"M","a":0,"d":0},{"t":156,"c":"M","a":50,"d":9},{"t":156,"c":"M","a":100,"d":14},{"t":156,"c":"M","a":150,"d":17},{"t":156,"c":"M","a":185,"d":19},
{"t":157,"c":"M","a":0,"d":0},{"t":157,"c":"M","a":50,"d":11},{"t":157,"c":"M","a":100,"d":17},{"t":157,"c":"M","a":150,"d":20},{"t":157,"c":"M","a":210,"d":22},
{"t":158,"c":"M","a":0,"d":0},{"t":158,"c":"M","a":50,"d":12},{"t":158,"c":"M","a":100,"d":22},{"t":158,"c":"M","a":150,"d":27},{"t":158,"c":"M","a":215,"d":33},
{"t":159,"c":"M","a":0,"d":0},{"t":159,"c":"M","a":50,"d":10},{"t":159,"c":"M","a":100,"d":18},{"t":159,"c":"M","a":120,"d":21},
{"t":160,"c":"M","a":0,"d":0},{"t":160,"c":"M","a":50,"d":13},{"t":160,"c":"M","a":100,"d":22},{"t":160,"c":"M","a":150,"d":28},{"t":160,"c":"M","a":180,"d":30},
{"t":161,"c":"M","a":0,"d":0},{"t":161,"c":"M","a":50,"d":8},{"t":161,"c":"M","a":100,"d":12},{"t":161,"c":"M","a":150,"d":14},{"t":161,"c":"M","a":170,"d":15},
{"t":162,"c":"M","a":0,"d":0},{"t":162,"c":"M","a":50,"d":12},{"t":162,"c":"M","a":100,"d":19},{"t":162,"c":"M","a":150,"d":23},{"t":162,"c":"M","a":200,"d":25},{"t":162,"c":"M","a":250,"d":26},
{"t":163,"c":"M","a":0,"d":0},{"t":163,"c":"M","a":50,"d":15},{"t":163,"c":"M","a":100,"d":24},{"t":163,"c":"M","a":160,"d":28},
{"t":164,"c":"M","a":0,"d":0},{"t":164,"c":"M","a":50,"d":9},{"t":164,"c":"M","a":100,"d":16},{"t":164,"c":"M","a":150,"d":21},{"t":164,"c":"M","a":200,"d":24},
{"t":316,"c":"M","a":0,"d":0},{"t":316,"c":"M","a":50,"d":13},{"t":316,"c":"M","a":100,"d":21},{"t":316,"c":"M","a":150,"d":25},{"t":316,"c":"M","a":200,"d":27},
{"t":317,"c":"M","a":0,"d":0},{"t":317,"c":"M","a":50,"d":11},{"t":317,"c":"M","a":100,"d":19},{"t":317,"c":"M","a":150,"d":24},{"t":317,"c":"M","a":200,"d":28},{"t":317,"c":"M","a":240,"d":31},
{"t":318,"c":"M","a":0,"d":0},{"t":318,"c":"M","a":50,"d":14},{"t":318,"c":"M","a":100,"d":22},{"t":318,"c":"M","a":150,"d":26},{"t":318,"c":"M","a":180,"d":27},
{"t":319,"c":"M","a":0,"d":0},{"t":319,"c":"M","a":50,"d":10},{"t":319,"c":"M","a":100,"d":17},{"t":319,"c":"M","a":150,"d":21},{"t":319,"c":"M","a":200,"d":23},{"t":319,"c":"M","a":230,"d":24},
{"t":320,"c":"M","a":0,"d":0},{"t":320,"c":"M","a":50,"d":12},{"t":320,"c":"M","a":100,"d":20},{"t":320,"c":"M","a":150,"d":25},{"t":320,"c":"M","a":200,"d":29},
{"t":321,"c":"M","a":0,"d":0},{"t":321,"c":"M","a":40,"d":12},{"t":321,"c":"M","a":80,"d":19},{"t":321,"c":"M","a":120,"d":23},
{"t":322,"c":"M","a":0,"d":0},{"t":322,"c":"M","a":50,"d":13},{"t":322,"c":"M","a":100,"d":23},{"t":322,"c":"M","a":150,"d":29},{"t":322,"c":"M","a":170,"d":31},
{"t":323,"c":"M","a":0,"d":0},{"t":323,"c":"M","a":50,"d":9},{"t":323,"c":"M","a":100,"d":15},{"t":323,"c":"M","a":150,"d":19},{"t":323,"c":"M","a":200,"d":21},
{"t":324,"c":"M","a":0,"d":0},{"t":324,"c":"M","a":50,"d":12},{"t":324,"c":"M","a":100,"d":18},{"t":324,"c":"M","a":150,"d":21},{"t":324,"c":"M","a":180,"d":22},
{"t":325,"c":"M","a":0,"d":0},{"t":325,"c":"M","a":50,"d":14},{"t":325,"c":"M","a":100,"d":21},{"t":325,"c":"M","a":140,"d":24},
{"t":165,"c":"U","a":0,"d":0},{"t":165,"c":"U","a":30,"d":2},{"t":165,"c":"U","a":63,"d":3},{"t":165,"c":"U","a":100,"d":3.6},{"t":165,"c":"U","a":142,"d":5},{"t":165,"c":"U","a":154,"d":9},{"t":165,"c":"U","a":180,"d":12},{"t":165,"c":"U","a":202,"d":14},
{"t":166,"c":"U","a":0,"d":0},{"t":166,"c":"U","a":50,"d":10},{"t":166,"c":"U","a":100,"d":16},{"t":166,"c":"U","a":150,"d":19},{"t":166,"c":"U","a":190,"d":21},
{"t":167,"c":"U","a":0,"d":0},{"t":167,"c":"U","a":50,"d":12},{"t":167,"c":"U","a":100,"d":19},{"t":167,"c":"U","a":150,"d":23},{"t":167,"c":"U","a":180,"d":25},
{"t":168,"c":"U","a":0,"d":0},{"t":168,"c":"U","a":50,"d":8},{"t":168,"c":"U","a":100,"d":13},{"t":168,"c":"U","a":140,"d":16},
{"t":169,"c":"U","a":0,"d":0},{"t":169,"c":"U","a":50,"d":11},{"t":169,"c":"U","a":90,"d":17},{"t":169,"c":"U","a":120,"d":19},
{"t":170,"c":"U","a":0,"d":0},{"t":170,"c":"U","a":50,"d":9},{"t":170,"c":"U","a":100,"d":14},{"t":170,"c":"U","a":150,"d":17},{"t":170,"c":"U","a":175,"d":18},
{"t":171,"c":"U","a":0,"d":0},{"t":171,"c":"U","a":40,"d":8},{"t":171,"c":"U","a":70,"d":12},{"t":171,"c":"U","a":90,"d":14},
{"t":172,"c":"U","a":0,"d":0},{"t":172,"c":"U","a":50,"d":12},{"t":172,"c":"U","a":80,"d":20},{"t":172,"c":"U","a":110,"d":24},
{"t":173,"c":"U","a":0,"d":0},{"t":173,"c":"U","a":50,"d":7},{"t":173,"c":"U","a":100,"d":11},{"t":173,"c":"U","a":150,"d":13},
{"t":174,"c":"U","a":0,"d":0},{"t":174,"c":"U","a":50,"d":10},{"t":174,"c":"U","a":100,"d":17},{"t":174,"c":"U","a":130,"d":20},{"t":174,"c":"U","a":150,"d":22},
{"t":175,"c":"U","a":0,"d":0},{"t":175,"c":"U","a":30,"d":6},{"t":175,"c":"U","a":60,"d":10},{"t":175,"c":"U","a":80,"d":12},
{"t":176,"c":"U","a":0,"d":0},{"t":176,"c":"U","a":50,"d":6},{"t":176,"c":"U","a":100,"d":10},{"t":176,"c":"U","a":160,"d":12},
{"t":326,"c":"U","a":0,"d":0},{"t":326,"c":"U","a":40,"d":9},{"t":326,"c":"U","a":80,"d":14},{"t":326,"c":"U","a":110,"d":17},
{"t":327,"c":"U","a":0,"d":0},{"t":327,"c":"U","a":50,"d":11},{"t":327,"c":"U","a":100,"d":17},{"t":327,"c":"U","a":140,"d":20},
{"t":328,"c":"U","a":0,"d":0},{"t":328,"c":"U","a":30,"d":7},{"t":328,"c":"U","a":60,"d":11},{"t":328,"c":"U","a":90,"d":14},{"t":328,"c":"U","a":120,"d":16},
{"t":329,"c":"U","a":0,"d":0},{"t":329,"c":"U","a":50,"d":9},{"t":329,"c":"U","a":100,"d":14},{"t":329,"c":"U","a":130,"d":16},
{"t":330,"c":"U","a":0,"d":0},{"t":330,"c":"U","a":50,"d":13},{"t":330,"c":"U","a":90,"d":19},{"t":330,"c":"U","a":130,"d":22},
{"t":331,"c":"U","a":0,"d":0},{"t":331,"c":"U","a":40,"d":7},{"t":331,"c":"U","a":80,"d":11},{"t":331,"c":"U","a":120,"d":14},{"t":331,"c":"U","a":160,"d":17},
{"t":332,"c":"U","a":0,"d":0},{"t":332,"c":"U","a":50,"d":10},{"t":332,"c":"U","a":100,"d":15},{"t":332,"c":"U","a":120,"d":17},
{"t":333,"c":"U","a":0,"d":0},{"t":333,"c":"U","a":30,"d":5},{"t":333,"c":"U","a":60,"d":8},{"t":333,"c":"U","a":100,"d":12}
],
"bars": [
{"s":"B","k":"0","v":12.0},{"s":"B","k":"1","v":19.8},{"s":"B","k":"2","v":24.1},{"s":"B","k":">2","v":43.9},
{"s":"F","k":"0","v":17.0},{"s":"F","k":"1","v":34.8},{"s":"F","k":"2","v":25.1},{"s":"F","k":">2","v":22.9}
]
},
"columns": 2,
"spacing": {"row": 80, "column": 112},
"bounds": "flush",
"resolve": {"scale": {"color": "independent"}, "legend": {"color": "independent"}},
"concat": [
{
  "width": 710, "height": 316,
  "title": {"text": "European beech", "fontSize": 24, "fontWeight": "bold", "font": "Liberation Sans", "color": "#000", "anchor": "middle", "frame": "group", "dx": 38, "dy": 38, "baseline": "middle", "offset": 0},
  "data": {"name": "beech"},
  "mark": {"type": "line", "strokeWidth": 1.8},
  "encoding": {
    "x": {"field": "a", "type": "quantitative", "scale": {"domain": [0, 450], "nice": false, "zero": false},
          "axis": {"title": "Age (years)", "offset": 11, "values": [0,10,20,30,40,50,60,70,80,90,100,110,120,130,140,150,160,170,180,190,200,210,220,230,240,250,260,270,280,290,300,310,320,330,340,350,360,370,380,390,400,410,420,430,440,450],
                   "labelExpr": "datum.value % 50 === 0 ? datum.label : ''", "labelOverlap": false, "labelFlush": false, "labelBound": false,
                   "tickSize": {"condition": {"test": "datum.value % 50 === 0", "value": 9}, "value": 5},
                   "labelPadding": 9, "titlePadding": -1}},
    "y": {"field": "d", "type": "quantitative", "scale": {"domain": [0, 104.5], "nice": false},
          "axis": {"title": "Cumulative diameter (cm)", "offset": 30, "domainDash": [302.4, 2000], "values": [0,10,20,30,40,50,60,70,80,90,100], "labelOverlap": false, "tickSize": 6, "labelPadding": 5, "titleX": -42, "titleY": 167, "titleBaseline": "middle"}},
    "color": {"field": "c", "type": "nominal", "scale": {"domain": ["O", "M", "U"], "range": ["#c6c6c6", "#606060", "#1c1c1c"]},
              "legend": {"orient": "none", "legendX": -6.5, "legendY": 10, "title": null, "symbolType": "M-4,0L4,0", "symbolSize": 49, "symbolStrokeWidth": 2.2, "labelFontSize": 16, "labelOffset": 21.5, "rowPadding": 1, "padding": 0,
                         "labelExpr": "datum.value === 'O' ? 'Overstorey (n = 207)' : datum.value === 'M' ? 'Midstorey (n = 62)' : 'Understorey (n = 2)'"}},
    "detail": {"field": "t", "type": "nominal"}
  }
},
{
  "width": 250, "height": 327,
  "data": {"name": "bars"},
  "transform": [{"filter": "datum.s === 'B'"}],
  "mark": {"type": "bar", "fill": "#878787", "stroke": "#000", "strokeWidth": 2.2},
  "encoding": {
    "x": {"field": "k", "type": "ordinal", "sort": ["0", "1", "2", ">2"], "scale": {"paddingInner": 0.15, "paddingOuter": 0.09},
          "axis": {"title": "Number of release events", "titleFontSize": 22, "domain": false, "ticks": false, "labelAngle": 0, "labelPadding": 17, "titlePadding": -1}},
    "y": {"field": "v", "type": "quantitative", "scale": {"domain": [0, 50], "nice": false},
          "axis": {"title": "Proportion of upper canopy trees", "offset": 4, "values": [0, 10, 20, 30, 40, 50], "tickSize": 6, "labelPadding": 5, "titleX": -43, "titleY": 164, "titleBaseline": "middle"}}
  }
},
{
  "width": 710, "height": 315,
  "title": {"text": "Silver fir", "fontSize": 24, "fontWeight": "bold", "font": "Liberation Sans", "color": "#000", "anchor": "middle", "frame": "group", "dx": 38, "dy": 38, "baseline": "middle", "offset": 0},
  "data": {"name": "fir"},
  "mark": {"type": "line", "strokeWidth": 1.8},
  "encoding": {
    "x": {"field": "a", "type": "quantitative", "scale": {"domain": [0, 450], "nice": false, "zero": false},
          "axis": {"title": "Age (years)", "offset": 13, "values": [0,10,20,30,40,50,60,70,80,90,100,110,120,130,140,150,160,170,180,190,200,210,220,230,240,250,260,270,280,290,300,310,320,330,340,350,360,370,380,390,400,410,420,430,440,450],
                   "labelExpr": "datum.value % 50 === 0 ? datum.label : ''", "labelOverlap": false, "labelFlush": false, "labelBound": false,
                   "tickSize": {"condition": {"test": "datum.value % 50 === 0", "value": 9}, "value": 5},
                   "labelPadding": 9, "titlePadding": -2}},
    "y": {"field": "d", "type": "quantitative", "scale": {"domain": [0, 104.3], "nice": false},
          "axis": {"title": "Cumulative diameter (cm)", "offset": 30, "domainDash": [302, 2000], "values": [0,10,20,30,40,50,60,70,80,90,100], "labelOverlap": false, "tickSize": 6, "labelPadding": 5, "titleX": -42, "titleY": 167, "titleBaseline": "middle"}},
    "color": {"field": "c", "type": "nominal", "scale": {"domain": ["O", "M", "U"], "range": ["#c6c6c6", "#606060", "#1c1c1c"]},
              "legend": {"orient": "none", "legendX": -6.5, "legendY": 10, "title": null, "symbolType": "M-4,0L4,0", "symbolSize": 49, "symbolStrokeWidth": 2.2, "labelFontSize": 16, "labelOffset": 21.5, "rowPadding": 1, "padding": 0,
                         "labelExpr": "datum.value === 'O' ? 'Overstorey (n = 135)' : datum.value === 'M' ? 'Midstorey (n = 108)' : 'Understorey (n = 26)'"}},
    "detail": {"field": "t", "type": "nominal"}
  }
},
{
  "width": 250, "height": 327,
  "data": {"name": "bars"},
  "transform": [{"filter": "datum.s === 'F'"}],
  "mark": {"type": "bar", "fill": "#878787", "stroke": "#000", "strokeWidth": 2.2},
  "encoding": {
    "x": {"field": "k", "type": "ordinal", "sort": ["0", "1", "2", ">2"], "scale": {"paddingInner": 0.15, "paddingOuter": 0.09},
          "axis": {"title": "Number of release events", "titleFontSize": 22, "domain": false, "ticks": false, "labelAngle": 0, "labelPadding": 17, "titlePadding": -1}},
    "y": {"field": "v", "type": "quantitative", "scale": {"domain": [0, 50], "nice": false},
          "axis": {"title": "Proportion of upper canopy trees", "offset": 4, "values": [0, 10, 20, 30, 40, 50], "tickSize": 6, "labelPadding": 5, "titleX": -43, "titleY": 164, "titleBaseline": "middle"}}
  }
}
]
}
